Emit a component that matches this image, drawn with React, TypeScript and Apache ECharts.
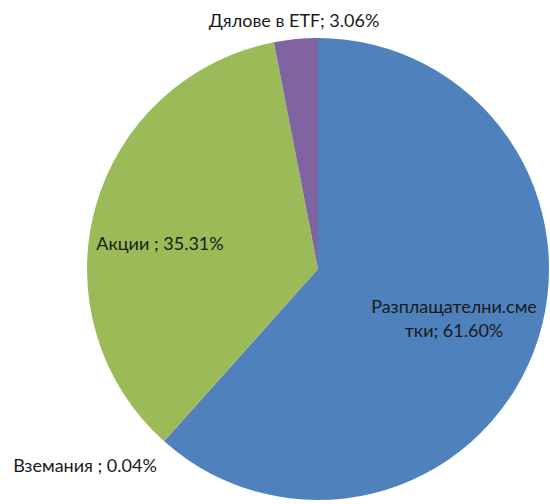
import React, { useEffect, useRef } from "react";
import * as echarts from "echarts";

const categories = ["Разплащателни.сметки", "Вземания ", "Акции ", "Дялове в ETF"];
const values = [61.6, 0.04, 35.31, 3.06];
const colors = ["#4F81BD", "#C0504D", "#9BBB59", "#8064A2"];

// label anchor layout (pixel positions, styling only)
const labelLayouts = [
  { x: 454, y: 318 },
  { x: 85, y: 465 },
  { x: 160, y: 243 },
  { x: 294, y: 20 },
];

export default function App() {
  const ref = useRef<HTMLDivElement>(null);
  useEffect(() => {
    if (!ref.current) return;
    const chart = echarts.init(ref.current, undefined, { renderer: "svg" });
    chart.setOption({
      animation: false,
      backgroundColor: "#ffffff",
      series: [
        {
          type: "pie",
          center: [318, 269],
          radius: 231,
          startAngle: 90,
          clockwise: true,
          avoidLabelOverlap: false,
          data: categories.map((name, i) => ({
            name,
            value: values[i],
            itemStyle: { color: colors[i] },
          })),
          itemStyle: { borderWidth: 0 },
          labelLine: { show: false },
          label: {
            show: true,
            position: "inside",
            fontFamily: "Lato",
            fontSize: 18,
            color: "#1a1a1a",
            lineHeight: 24,
            formatter: (p: any) => {
              const v = Number(p.value).toFixed(2) + "%";
              if (p.dataIndex === 0) {
                return p.name.slice(0, 17) + "\n" + p.name.slice(17) + "; " + v;
              }
              return p.name + "; " + v;
            },
          },
          labelLayout: (p: any) => {
            const l = labelLayouts[p.dataIndex];
            return { x: l.x, y: l.y, align: "center", verticalAlign: "middle" };
          },
        },
      ],
    });
    return () => chart.dispose();
  }, []);
  return (
    <div
      ref={ref}
      style={{ position: "fixed", left: 0, top: 0, width: 550, height: 504 }}
    />
  );
}
